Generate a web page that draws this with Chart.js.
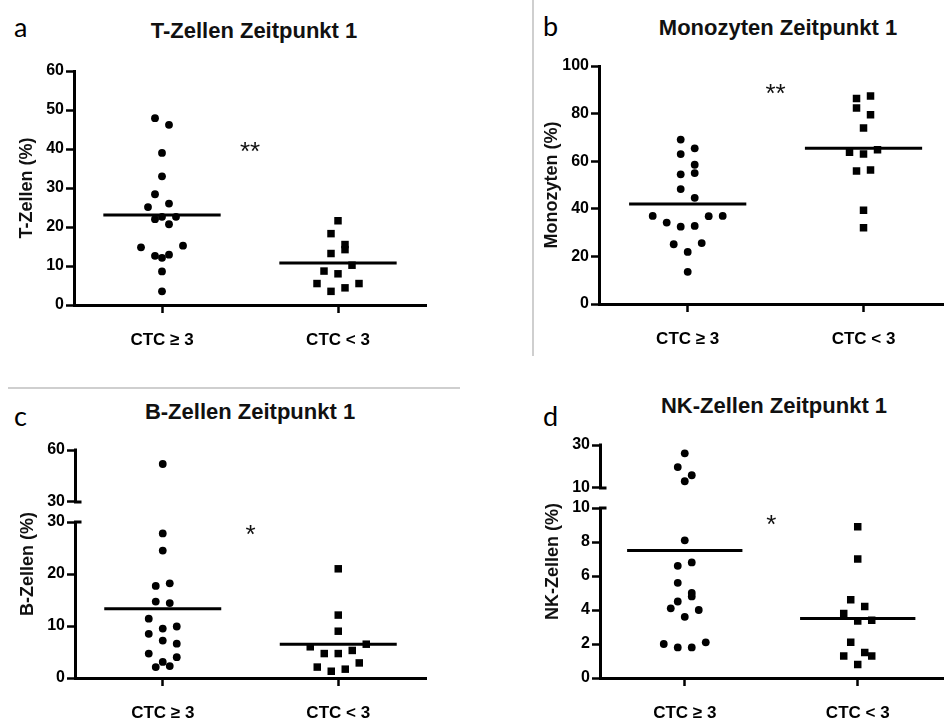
<!DOCTYPE html>
<html lang="de">
<head>
<meta charset="UTF-8">
<title>Zeitpunkt 1</title>
<script src="https://cdn.jsdelivr.net/npm/chart.js"></script>
<style>
  html, body { margin: 0; padding: 0; background: #fff; overflow: hidden; }
  #page { position: relative; width: 949px; height: 723px; font-family: 'Liberation Sans', Arial, sans-serif; color: #111; }
  canvas { position: absolute; }
  .title { position: absolute; font-weight: bold; font-size: 22px; line-height: 1; white-space: nowrap; transform: translateX(-50%); }
  .letter { position: absolute; font-family: Lato, sans-serif; font-size: 27px; line-height: 1; color: #000; }
  .sep { position: absolute; background: #cfcfcf; }
</style>
</head>
<body>
<div id="page">
  <div class="sep" style="left:532px; top:0; width:2px; height:356px;"></div>
  <div class="sep" style="left:8px; top:387px; width:452px; height:2px;"></div>

  <div class="letter" style="left:14px; top:13px;">a</div>
  <div class="letter" style="left:543px; top:12px;">b</div>
  <div class="letter" style="left:14px; top:402px;">c</div>
  <div class="letter" style="left:543px; top:402px;">d</div>

  <div class="title" style="left:254px; top:20px;">T-Zellen Zeitpunkt 1</div>
  <div class="title" style="left:778px; top:17px;">Monozyten Zeitpunkt 1</div>
  <div class="title" style="left:250px; top:401px;">B-Zellen Zeitpunkt 1</div>
  <div class="title" style="left:774px; top:395px;">NK-Zellen Zeitpunkt 1</div>

  <canvas id="pa" width="470" height="360" style="left:0; top:0;"></canvas>
  <canvas id="pb" width="414" height="360" style="left:535px; top:0;"></canvas>
  <canvas id="pc" width="470" height="333" style="left:0; top:390px;"></canvas>
  <canvas id="pd" width="414" height="333" style="left:535px; top:390px;"></canvas>
</div>

<script>
// groups on the x axis
const categories = ['CTC ≥ 3', 'CTC < 3'];

// values (%), CTC >= 3 are circles, CTC < 3 squares
const tZellenHigh = [47.9, 46.2, 39.0, 33.0, 28.4, 25.1, 26.0, 22.6, 22.0, 20.7, 22.6, 14.8, 12.6, 12.1, 12.9, 15.2, 8.6, 3.5];
const tZellenLow = [21.6, 18.3, 15.5, 13.2, 14.2, 8.7, 8.0, 10.2, 5.5, 3.5, 4.4, 5.5];
const tZellenMedian = [23.1, 10.8];

const monoHigh = [69.1, 65.4, 63.0, 58.5, 54.5, 55.0, 48.3, 44.6, 37.0, 34.2, 32.5, 32.8, 36.9, 37.0, 25.1, 21.9, 25.6, 13.5];
const monoLow = [86.3, 82.4, 87.4, 79.5, 74.0, 63.8, 63.0, 64.8, 55.9, 56.3, 39.4, 32.0];
const monoMedian = [42.0, 65.4];

const bZellenHigh = [51.9, 27.8, 24.5, 17.7, 18.2, 14.7, 14.4, 11.4, 9.5, 9.9, 8.5, 7.2, 6.6, 4.7, 3.1, 2.1, 2.3, 4.0];
const bZellenLow = [21.0, 12.1, 9.0, 6.0, 4.7, 4.7, 5.3, 6.5, 2.1, 1.3, 1.7, 2.9];
const bZellenMedian = [13.3, 6.5];

const nkHigh = [26.1, 19.7, 15.9, 13.1, 8.1, 6.6, 6.8, 5.6, 5.0, 4.5, 4.8, 4.1, 3.6, 4.0, 2.0, 1.8, 1.8, 2.1];
const nkLow = [8.9, 7.0, 4.6, 4.2, 3.8, 3.35, 3.4, 2.1, 1.3, 0.8, 1.3, 1.5];
const nkMedian = [7.5, 3.5];

const yTitles = ['T-Zellen (%)', 'Monozyten (%)', 'B-Zellen (%)', 'NK-Zellen (%)'];
const sigLabels = ['**', '**', '*', '*'];
const sigLevels = [41, 91, 28.8, 9.4];

Chart.defaults.font.family = "'Liberation Sans', Arial, sans-serif";
Chart.defaults.color = '#111';

const SLOT_PX = 7;   // horizontal step of the column scatter
const ROW_PX = 11;   // points closer than this share a row

const panels = [
  { canvas: 'pa', high: tZellenHigh, low: tZellenLow, median: tZellenMedian,
    yMin: 0, yMax: 60, yStep: 10, xMin: 0.5, xMax: 2.5, yW: 74, xH: 50,
    pad: {top: 71, right: 44, bottom: 5, left: 0} },
  { canvas: 'pb', high: monoHigh, low: monoLow, median: monoMedian,
    yMin: 0, yMax: 100, yStep: 20, xMin: 0.4955, xMax: 2.456, yW: 64, xH: 50,
    pad: {top: 66, right: 0, bottom: 6, left: 0} },
  { canvas: 'pc', high: bZellenHigh, low: bZellenLow, median: bZellenMedian,
    yMin: 0, yMax: 30, yStep: 10, xMin: 0.5, xMax: 2.5, yW: 75, xH: 45,
    brk: {at: 30, top: 60, min: 18.4, wLow: 156, wUp: 72},
    pad: {top: 60, right: 44, bottom: 0, left: 0} },
  { canvas: 'pd', high: nkHigh, low: nkLow, median: nkMedian,
    yMin: 0, yMax: 10, yStep: 2, xMin: 0.51, xMax: 2.497, yW: 65, xH: 45,
    brk: {at: 10, top: 30, min: 0.63, wLow: 170, wUp: 63},
    pad: {top: 55, right: 0, bottom: 0, left: 0} }
];

// axis title, stars and the upper piece of a broken axis
const decor = {
  id: 'decor',
  afterDraw(chart, args, o) {
    const {ctx, chartArea: a, scales} = chart;
    ctx.save();
    ctx.translate(a.left - 47, (a.top + a.bottom) / 2);
    ctx.rotate(-Math.PI / 2);
    ctx.font = "bold 18px 'Liberation Sans', Arial, sans-serif";
    ctx.fillStyle = '#111';
    ctx.textAlign = 'center';
    ctx.textBaseline = 'middle';
    ctx.fillText(o.yTitle, 0, 0);
    ctx.restore();

    ctx.save();
    ctx.font = "26px 'Liberation Sans', Arial, sans-serif";
    ctx.fillStyle = '#111';
    ctx.textAlign = 'center';
    ctx.fillText(o.stars, scales.x.getPixelForValue(1.5), scales.y.getPixelForValue(o.starY) + 15);
    ctx.restore();

    if (scales.y2) {
      const y = scales.y, y2 = scales.y2;
      const x = y._borderValue !== undefined ? y._borderValue : a.left;
      const yb = y2.getPixelForValue(o.breakAt);
      ctx.save();
      ctx.strokeStyle = '#000';
      ctx.lineWidth = 3;
      ctx.beginPath();
      ctx.moveTo(x, yb + 1.5);
      ctx.lineTo(x, y2.getPixelForValue(y2.max) - 1.5);
      ctx.moveTo(x - 1.5, yb);
      ctx.lineTo(x + 6, yb);
      ctx.moveTo(x - 1.5, y.top);
      ctx.lineTo(x + 6, y.top);
      ctx.stroke();
      ctx.restore();
    }
  }
};

function tickGrid() {
  return {drawOnChartArea: false, drawTicks: true, tickLength: 8, tickWidth: 2.5, tickColor: '#000'};
}

function yTicks(step) {
  return {stepSize: step, autoSkip: false, font: {size: 16, weight: 'bold'}, color: '#000', padding: 2};
}

// column scatter: points in the same row are spread symmetrically
function swarm(chart, groups, p) {
  const xs = chart.scales.x;
  const unit = xs.getPixelForValue(2) - xs.getPixelForValue(1);
  groups.forEach(g => {
    const items = g.pts.map((q, i) => {
      const sc = p.brk && q.y > p.brk.at ? chart.scales.y2 : chart.scales.y;
      return {q, i, py: sc.getPixelForValue(q.y)};
    });
    items.sort((a, b) => a.py - b.py);
    const rows = [];
    items.forEach(it => {
      const row = rows[rows.length - 1];
      if (row && it.py - row[0].py <= ROW_PX) row.push(it);
      else rows.push([it]);
    });
    rows.forEach(row => {
      row.sort((a, b) => a.i - b.i);
      row.forEach((it, k) => {
        it.q.x = g.center + (2 * k - (row.length - 1)) * SLOT_PX / unit;
      });
    });
  });
  chart.update('none');
}

panels.forEach((p, n) => {
  const datasets = [];
  const groups = [];
  [p.high, p.low].forEach((vals, gi) => {
    const center = gi + 1;
    const pts = vals.map(v => ({x: center, y: v}));
    const mark = gi === 0
      ? {pointStyle: 'circle', pointRadius: 3.9}
      : {pointStyle: 'rect', pointRadius: 5.3};
    const lower = p.brk ? pts.filter(q => q.y <= p.brk.at) : pts;
    const upper = p.brk ? pts.filter(q => q.y > p.brk.at) : [];
    datasets.push({type: 'scatter', data: lower, yAxisID: 'y', backgroundColor: '#000', borderWidth: 0, ...mark});
    if (upper.length) {
      datasets.push({type: 'scatter', data: upper, yAxisID: 'y2', backgroundColor: '#000', borderWidth: 0, ...mark});
    }
    groups.push({center, pts});
  });
  p.median.forEach((m, i) => {
    datasets.push({
      type: 'line',
      data: [{x: i + 1 - 1 / 3, y: m}, {x: i + 1 + 1 / 3, y: m}],
      yAxisID: 'y', borderColor: '#000', borderWidth: 3, pointRadius: 0
    });
  });

  const scales = {
    x: {
      type: 'linear', min: p.xMin, max: p.xMax,
      border: {color: '#000', width: 3},
      grid: tickGrid(),
      afterBuildTicks: s => { s.ticks = [{value: 1}, {value: 2}]; },
      afterFit: s => { s.height = p.xH; },
      ticks: {
        font: {size: 17, weight: 'bold'}, color: '#000', padding: 17,
        maxRotation: 0, autoSkip: false,
        callback: v => categories[v - 1]
      }
    },
    y: {
      type: 'linear', position: 'left', min: p.yMin, max: p.yMax,
      border: {color: '#000', width: 3},
      grid: tickGrid(),
      afterFit: s => { s.width = p.yW; },
      ticks: yTicks(p.yStep)
    }
  };
  if (p.brk) {
    scales.y.stack = 'v';
    scales.y.stackWeight = p.brk.wLow;
    scales.y2 = {
      type: 'linear', position: 'left', stack: 'v', stackWeight: p.brk.wUp,
      min: p.brk.min, max: p.brk.top,
      border: {display: false},
      grid: tickGrid(),
      afterFit: s => { s.width = p.yW; },
      afterBuildTicks: s => { s.ticks = [{value: p.brk.at}, {value: p.brk.top}]; },
      ticks: yTicks(undefined)
    };
  }

  const chart = new Chart(document.getElementById(p.canvas), {
    type: 'scatter',
    data: {datasets},
    options: {
      responsive: false,
      animation: false,
      layout: {padding: p.pad},
      scales,
      plugins: {
        legend: {display: false},
        tooltip: {enabled: false},
        decor: {yTitle: yTitles[n], stars: sigLabels[n], starY: sigLevels[n], breakAt: p.brk ? p.brk.at : null}
      }
    },
    plugins: [decor]
  });
  swarm(chart, groups, p);
});
</script>
</body>
</html>
